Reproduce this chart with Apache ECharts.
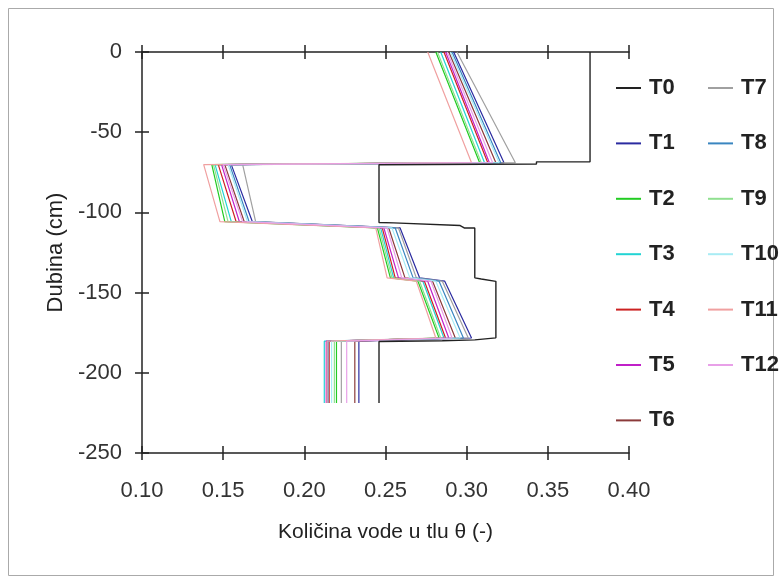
<!DOCTYPE html>
<html>
<head>
<meta charset="utf-8">
<script src="https://cdn.jsdelivr.net/npm/echarts@6/dist/echarts.min.js"></script>
<style>
  html, body { margin: 0; padding: 0; background: #fff; }
  #chart { width: 782px; height: 584px; }
</style>
</head>
<body>
<div id="chart"></div>
<script>
// depth breakpoints shared by T1..T12 (cm)
var depths = [0, -69, -70.2, -105.8, -109.7, -140.8, -142.9, -178.3, -180.3, -218.8];

// water content at each breakpoint
var T1  = [0.292, 0.323, 0.155, 0.168, 0.259, 0.271, 0.2865, 0.303, 0.2336, 0.2336];
var T2  = [0.281, 0.308, 0.143, 0.151, 0.245, 0.253, 0.270, 0.283, 0.2198, 0.2198];
var T3  = [0.284, 0.311, 0.145, 0.155, 0.247, 0.255, 0.273, 0.286, 0.2123, 0.2123];
var T4  = [0.286, 0.313, 0.147, 0.158, 0.248, 0.256, 0.274, 0.287, 0.2153, 0.2153];
var T5  = [0.287, 0.314, 0.149, 0.160, 0.249, 0.258, 0.276, 0.289, 0.2135, 0.2135];
var T6  = [0.289, 0.318, 0.151, 0.163, 0.252, 0.262, 0.279, 0.293, 0.2311, 0.2311];
var T7  = [0.294, 0.330, 0.162, 0.170, 0.258, 0.269, 0.285, 0.301, 0.2228, 0.2228];
var T8  = [0.291, 0.321, 0.154, 0.166, 0.256, 0.267, 0.283, 0.298, 0.2145, 0.2145];
var T9  = [0.282, 0.309, 0.144, 0.153, 0.246, 0.254, 0.271, 0.284, 0.2185, 0.2185];
var T10 = [0.290, 0.320, 0.153, 0.165, 0.254, 0.265, 0.281, 0.296, 0.2168, 0.2168];
var T11 = [0.276, 0.303, 0.138, 0.148, 0.244, 0.251, 0.269, 0.281, 0.2140, 0.2140];
var T12 = [0.288, 0.316, 0.150, 0.162, 0.251, 0.260, 0.278, 0.291, 0.2261, 0.2261];

// initial profile T0
var t0Val   = [0.376, 0.376, 0.343, 0.343, 0.246, 0.246, 0.255, 0.256, 0.296, 0.2985, 0.305, 0.305, 0.309, 0.318, 0.318, 0.305, 0.285, 0.246, 0.246];
var t0Depth = [0, -68.5, -68.5, -69.8, -70.3, -106.3, -106.5, -107.6, -108.2, -109.7, -109.7, -140.8, -141.5, -143, -178.2, -179.5, -180, -180.5, -218.8];

var names  = ['T0','T1','T2','T3','T4','T5','T6','T7','T8','T9','T10','T11','T12'];
var colors = ['#222222','#2b2ba0','#22cc22','#22d4d4','#cc2222','#c020c8','#8b3a3a',
              '#a0a0a0','#3a86c0','#90e090','#a8ecf4','#f0a0a0','#e8a0e8'];
var profiles = [null, T1, T2, T3, T4, T5, T6, T7, T8, T9, T10, T11, T12];

var xTicks = [0.10, 0.15, 0.20, 0.25, 0.30, 0.35, 0.40];
var yTicks = [0, -50, -100, -150, -200, -250];

var myChart = echarts.init(document.getElementById('chart'));

var font = 'Liberation Sans, Arial, sans-serif';
var axisLine = { show: true, onZero: false, lineStyle: { color: '#222', width: 1.5 } };
var noLine = { show: false, onZero: false };

function xAx(pos, inside, labels, line) {
    return {
        type: 'value', position: pos, min: xTicks[0], max: xTicks[xTicks.length - 1], interval: 0.05,
        axisLine: line ? axisLine : noLine,
        axisTick: { show: true, inside: inside, length: 7, lineStyle: { color: '#222', width: 1.5 } },
        axisLabel: labels ? {
            show: true, margin: 27, color: '#333', fontSize: 22, fontFamily: font,
            formatter: function (v) { return v.toFixed(2); }
        } : { show: false },
        splitLine: { show: false }
    };
}
function yAx(inside, labels, line) {
    return {
        type: 'value', position: 'left', min: yTicks[yTicks.length - 1], max: yTicks[0], interval: 50,
        axisLine: line ? axisLine : noLine,
        axisTick: { show: true, inside: inside, length: 7, lineStyle: { color: '#222', width: 1.5 } },
        axisLabel: labels ? { show: true, margin: 20, color: '#333', fontSize: 22, fontFamily: font } : { show: false },
        splitLine: { show: false }
    };
}

var xa0 = xAx('bottom', false, true, true);
xa0.name = 'Količina vode u tlu θ (-)';
xa0.nameLocation = 'middle';
xa0.nameGap = 69;
xa0.nameTextStyle = { fontSize: 21, color: '#222', fontFamily: font };

var ya0 = yAx(false, true, true);
ya0.name = 'Dubina (cm)';
ya0.nameLocation = 'middle';
ya0.nameGap = 64;
ya0.nameTextStyle = { fontSize: 22, color: '#222', fontFamily: font };

var series = [];
for (var i = 1; i < names.length; i++) {
    var pts = [];
    for (var k = 0; k < depths.length; k++) pts.push([profiles[i][k], depths[k]]);
    series.push({
        name: names[i], type: 'line', data: pts, symbol: 'none', z: 2,
        lineStyle: { color: colors[i], width: 1.2 }, itemStyle: { color: colors[i] }
    });
}
var t0pts = [];
for (var j = 0; j < t0Val.length; j++) t0pts.push([t0Val[j], t0Depth[j]]);
series.unshift({
    name: 'T0', type: 'line', data: t0pts, symbol: 'none', z: 3,
    lineStyle: { color: colors[0], width: 1.4 }, itemStyle: { color: colors[0] }
});

var legendBase = {
    orient: 'vertical', itemWidth: 25, itemHeight: 2, itemGap: 33.4,
    icon: 'rect',
    textStyle: { fontSize: 22, fontWeight: 'bold', color: '#222', fontFamily: font, padding: [0, 0, 0, 3] }
};

var option = {
    animation: false,
    backgroundColor: '#fff',
    graphic: [{
        type: 'rect', shape: { x: 8.5, y: 8.5, width: 765, height: 567 },
        style: { fill: 'none', stroke: '#aaa', lineWidth: 1 }, silent: true
    }],
    grid: { left: 142, top: 52, width: 487, height: 401 },
    legend: [
        Object.assign({}, legendBase, { left: 611, top: 72, data: names.slice(0, 7) }),
        Object.assign({}, legendBase, { left: 703, top: 72, data: names.slice(7) })
    ],
    xAxis: [xa0, xAx('bottom', true, false, false), xAx('top', false, false, true), xAx('top', true, false, false)],
    yAxis: [ya0, yAx(true, false, false)],
    series: series
};
myChart.setOption(option);
</script>
</body>
</html>
